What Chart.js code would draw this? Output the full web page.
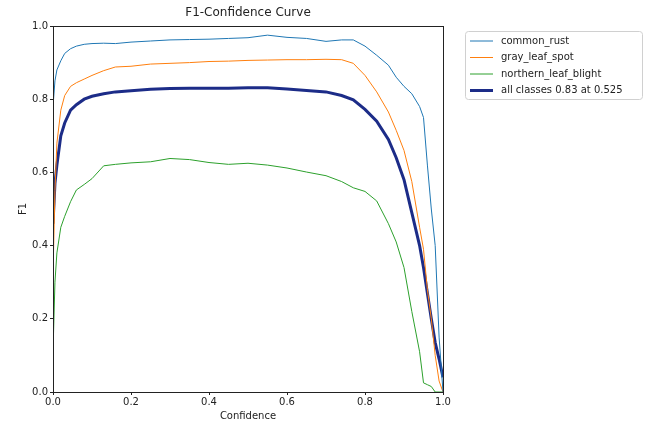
<!DOCTYPE html>
<html>
<head>
<meta charset="utf-8">
<script src="https://cdn.jsdelivr.net/npm/chart.js@4/dist/chart.umd.min.js"></script>
<style>
  html, body { margin: 0; padding: 0; background: #fff; }
  #wrap { width: 650px; height: 426px; }
</style>
</head>
<body>
<div id="wrap"><canvas id="myChart" width="650" height="426"></canvas></div>
<script>
// data
var confidence = [0, 0.005, 0.01, 0.02, 0.03, 0.045, 0.06, 0.08, 0.1, 0.13, 0.16, 0.2, 0.25, 0.3, 0.35, 0.4, 0.45, 0.5, 0.55, 0.6, 0.65, 0.7, 0.74, 0.77, 0.8, 0.83, 0.86, 0.88, 0.9, 0.92, 0.94, 0.95, 0.96, 0.97, 0.98, 0.99, 1.0];
var commonRust = [0.78, 0.85, 0.88, 0.905, 0.925, 0.938, 0.945, 0.95, 0.952, 0.953, 0.952, 0.956, 0.959, 0.962, 0.963, 0.964, 0.966, 0.968, 0.975, 0.969, 0.966, 0.958, 0.962, 0.962, 0.945, 0.92, 0.893, 0.86, 0.835, 0.815, 0.78, 0.75, 0.62, 0.5, 0.4, 0.15, 0.0];
var grayLeafSpot = [0.32, 0.55, 0.68, 0.77, 0.81, 0.835, 0.845, 0.855, 0.865, 0.878, 0.888, 0.89, 0.896, 0.898, 0.9, 0.903, 0.904, 0.906, 0.907, 0.908, 0.908, 0.909, 0.908, 0.898, 0.865, 0.82, 0.765, 0.715, 0.66, 0.575, 0.45, 0.39, 0.28, 0.2, 0.1, 0.03, 0.0];
var northernLeafBlight = [0.11, 0.3, 0.38, 0.45, 0.48, 0.52, 0.552, 0.567, 0.583, 0.618, 0.622, 0.626, 0.629, 0.638, 0.635, 0.627, 0.622, 0.625, 0.62, 0.612, 0.601, 0.591, 0.575, 0.558, 0.548, 0.522, 0.46, 0.41, 0.34, 0.22, 0.11, 0.025, 0.02, 0.015, 0.0, 0.0, 0.0];
var allClasses = [0.46, 0.57, 0.62, 0.7, 0.735, 0.77, 0.785, 0.8, 0.808, 0.815, 0.82, 0.823, 0.827, 0.829, 0.83, 0.83, 0.83, 0.831, 0.831, 0.828, 0.824, 0.82, 0.81, 0.798, 0.772, 0.74, 0.69, 0.64, 0.58, 0.49, 0.4, 0.34, 0.27, 0.2, 0.135, 0.09, 0.04];
var tickValues = [0, 0.2, 0.4, 0.6, 0.8, 1.0];

var font = 'DejaVu Sans';

function pts(values) { // pair confidence with series values
    return confidence.map(function(c, i) { return { x: c, y: values[i] }; });
}

var series = [
    { label: 'common_rust', data: commonRust, color: '#1f77b4', width: 1 },
    { label: 'gray_leaf_spot', data: grayLeafSpot, color: '#ff7f0e', width: 1 },
    { label: 'northern_leaf_blight', data: northernLeafBlight, color: '#2ca02c', width: 1 },
    { label: 'all classes 0.83 at 0.525', data: allClasses, color: '#1c2c88', width: 3 }
];

// frame, title and legend box like matplotlib
var extras = {
    id: 'extras',
    afterDraw: function(chart) {
        var ctx = chart.ctx, a = chart.chartArea;
        ctx.save();
        ctx.strokeStyle = '#222';
        ctx.lineWidth = 1;
        ctx.strokeRect(a.left + 0.5, a.top + 0.5, a.right - a.left, a.bottom - a.top);

        ctx.fillStyle = '#222';
        ctx.font = '12px ' + font;
        ctx.textAlign = 'center';
        ctx.textBaseline = 'middle';
        ctx.fillText('F1-Confidence Curve', (a.left + a.right) / 2, 13);

        // legend
        var lx = 465, ly = 31, lw = 177, lh = 68;
        ctx.strokeStyle = '#d0d0d0';
        ctx.lineWidth = 1;
        ctx.beginPath();
        ctx.roundRect(lx + 0.5, ly + 0.5, lw, lh, 3);
        ctx.stroke();
        ctx.font = '10px ' + font;
        ctx.textAlign = 'left';
        series.forEach(function(s, i) {
            var y = ly + 10 + i * 16.5;
            ctx.strokeStyle = s.color;
            ctx.lineWidth = s.width;
            ctx.beginPath();
            ctx.moveTo(470, y);
            ctx.lineTo(493, y);
            ctx.stroke();
            ctx.fillStyle = '#222';
            ctx.fillText(s.label, 501, y);
        });
        ctx.restore();
    }
};

var ctx = document.getElementById('myChart').getContext('2d');
var chart = new Chart(ctx, {
    type: 'line',
    data: {
        datasets: series.map(function(s) {
            return {
                label: s.label,
                data: pts(s.data),
                borderColor: s.color,
                backgroundColor: s.color,
                borderWidth: s.width,
                pointRadius: 0,
                tension: 0,
                fill: false
            };
        })
    },
    options: {
        responsive: false,
        animation: false,
        layout: { padding: { top: 26, right: 207, left: 13, bottom: 0 } },
        plugins: { legend: { display: false }, title: { display: false }, tooltip: { enabled: false } },
        scales: {
            x: {
                type: 'linear', min: 0, max: 1,
                afterBuildTicks: function(s) { s.ticks = tickValues.map(function(v) { return { value: v }; }); },
                afterFit: function(s) { s.height = 34; },
                grid: { drawOnChartArea: false, drawTicks: true, tickLength: 3, color: '#222' },
                border: { color: '#222' },
                ticks: { color: '#222', font: { family: font, size: 10 }, padding: 1, maxRotation: 0,
                    callback: function(v) { return v.toFixed(1); } },
                title: { display: true, text: 'Confidence', color: '#222', font: { family: font, size: 10 }, padding: { top: 0 } }
            },
            y: {
                type: 'linear', min: 0, max: 1,
                afterBuildTicks: function(s) { s.ticks = tickValues.map(function(v) { return { value: v }; }); },
                afterFit: function(s) { s.width = 40; },
                grid: { drawOnChartArea: false, drawTicks: true, tickLength: 3, color: '#222' },
                border: { color: '#222' },
                ticks: { color: '#222', font: { family: font, size: 10 }, padding: 2,
                    callback: function(v) { return v.toFixed(1); } },
                title: { display: true, text: 'F1', color: '#222', font: { family: font, size: 10 }, padding: { bottom: 0 } }
            }
        }
    },
    plugins: [extras]
});
</script>
</body>
</html>
